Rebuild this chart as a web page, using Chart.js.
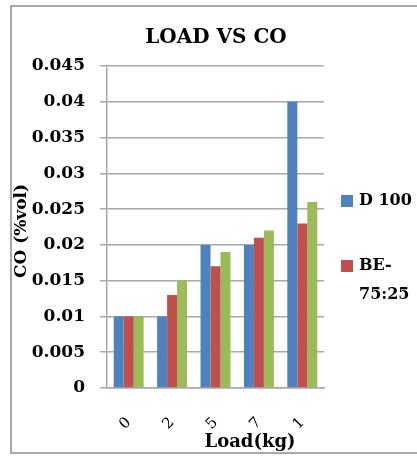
<!DOCTYPE html>
<html>
<head>
<meta charset="utf-8">
<title>LOAD VS CO</title>
<script src="https://cdn.jsdelivr.net/npm/chart.js@4/dist/chart.umd.min.js"></script>
<style>
  html, body { margin: 0; padding: 0; background: #ffffff; }
  canvas { display: block; }
</style>
</head>
<body>
<canvas id="chart" width="417" height="456"></canvas>
<script>
// Engine load steps and CO emissions (% vol) for each fuel
const loads = ['0', '2', '5', '7', '1'];
const d100 = [0.01, 0.01, 0.02, 0.02, 0.04];
const be7525 = [0.01, 0.013, 0.017, 0.021, 0.023];
const blend3 = [0.01, 0.015, 0.019, 0.022, 0.026];
const seriesNames = ['D 100', 'BE-75:25', 'Blend 3'];
const legendLines = [['D 100'], ['BE-', '75:25']];
const yTicks = [0, 0.005, 0.01, 0.015, 0.02, 0.025, 0.03, 0.035, 0.04, 0.045];

const chartTitle = 'LOAD VS CO';
const xTitle = 'Load(kg)';
const yTitle = 'CO (%vol)';

const colors = ['#4F81BD', '#C0504D', '#9BBB59'];
const gridColor = '#a8a8a8';
const serif = '"DejaVu Serif", "Liberation Serif", serif';

// Frame, headings and the side legend drawn around the plot
const decorations = {
  id: 'decorations',
  beforeDraw(chart) {
    const ctx = chart.ctx;
    ctx.save();
    ctx.strokeStyle = '#8c8c8c';
    ctx.lineWidth = 1.5;
    ctx.strokeRect(11, 6, 420, 447);
    ctx.restore();
  },
  afterDraw(chart) {
    const ctx = chart.ctx;
    const area = chart.chartArea;
    ctx.save();
    ctx.fillStyle = '#000000';
    ctx.textAlign = 'center';
    ctx.textBaseline = 'middle';

    ctx.font = 'bold 20px ' + serif;
    ctx.fillText(chartTitle, 216, 38);

    ctx.font = 'bold 18px ' + serif;
    ctx.fillText(xTitle, area.left + 143, 442);

    ctx.save();
    ctx.translate(22, 231);
    ctx.rotate(-Math.PI / 2);
    ctx.font = 'bold 17px ' + serif;
    ctx.fillText(yTitle, 0, 0);
    ctx.restore();

    // legend entries for the first two fuels
    const legendX = area.right + 17;
    const rowY = [201, 266];
    ctx.textAlign = 'left';
    ctx.font = 'bold 16px ' + serif;
    legendLines.forEach((lines, i) => {
      ctx.fillStyle = colors[i];
      ctx.fillRect(legendX, rowY[i] - 6, 12, 12);
      ctx.fillStyle = '#000000';
      lines.forEach((t, j) => ctx.fillText(t, legendX + 18, rowY[i] + j * 29));
    });
    ctx.restore();
  }
};

new Chart(document.getElementById('chart'), {
  type: 'bar',
  data: {
    labels: loads,
    datasets: [d100, be7525, blend3].map((values, i) => ({
      label: seriesNames[i],
      data: values,
      backgroundColor: colors[i],
      borderWidth: 0,
      categoryPercentage: 0.69,
      barPercentage: 1.0
    }))
  },
  options: {
    responsive: false,
    animation: false,
    devicePixelRatio: 1,
    layout: { padding: { top: 66, right: 93, bottom: 0, left: 0 } },
    plugins: {
      legend: { display: false },
      title: { display: false },
      tooltip: { enabled: false }
    },
    scales: {
      x: {
        afterFit(scale) { scale.height = 68; },
        grid: { display: false, drawTicks: false },
        border: { display: true, color: gridColor, width: 1.5 },
        ticks: {
          minRotation: 45,
          maxRotation: 45,
          padding: 26,
          color: '#000000',
          font: { family: serif, size: 15 }
        }
      },
      y: {
        min: 0,
        max: 0.045,
        afterFit(scale) { scale.width = 107; },
        afterBuildTicks(scale) { scale.ticks = yTicks.map(v => ({ value: v })); },
        grid: { color: gridColor, lineWidth: 1.5, tickLength: 7 },
        border: { display: true, color: gridColor, width: 1.5 },
        ticks: {
          padding: 15,
          color: '#000000',
          font: { family: serif, size: 17, weight: 'bold' },
          callback: v => String(+v.toFixed(3))
        }
      }
    }
  },
  plugins: [decorations]
});
</script>
</body>
</html>
